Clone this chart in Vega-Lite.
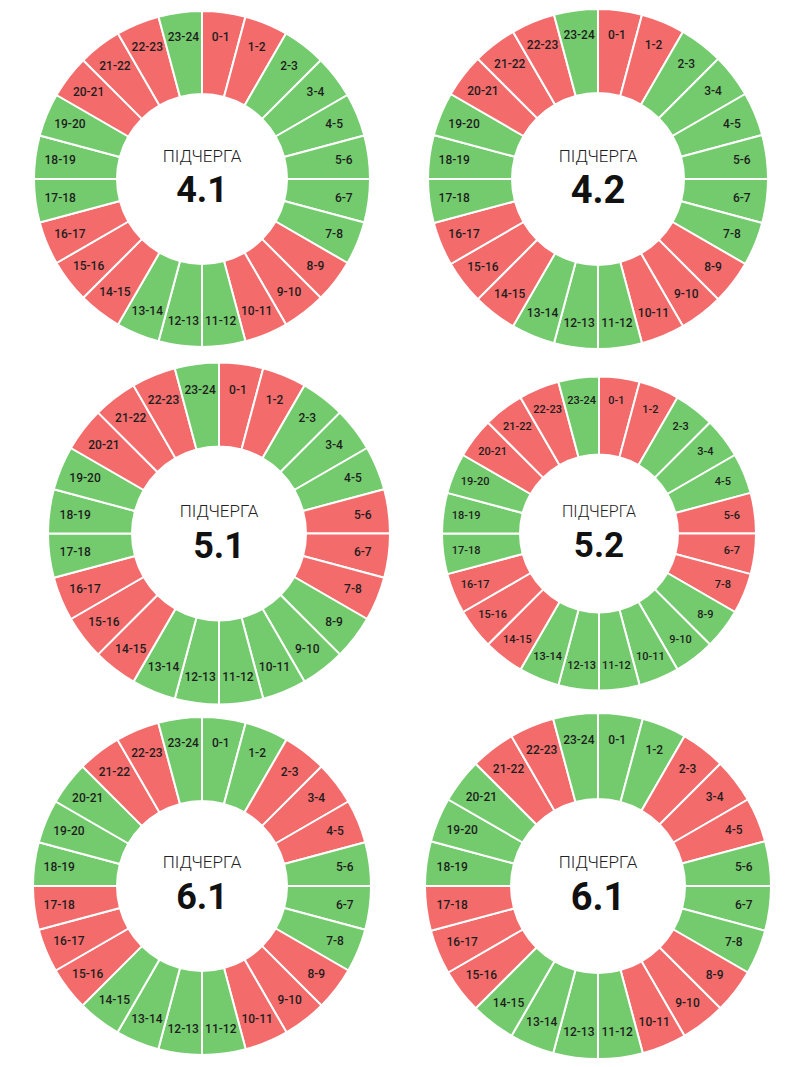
{
  "$schema": "https://vega.github.io/schema/vega-lite/v6.json",
  "padding": 0,
  "background": "white",
  "config": {"view": {"stroke": null}, "font": "Roboto"},
  "datasets": {
    "sched": [
      {"c":1,"h":0,"l":"0-1","s":"off","v":1},{"c":1,"h":1,"l":"1-2","s":"off","v":1},{"c":1,"h":2,"l":"2-3","s":"on","v":1},{"c":1,"h":3,"l":"3-4","s":"on","v":1},{"c":1,"h":4,"l":"4-5","s":"on","v":1},{"c":1,"h":5,"l":"5-6","s":"on","v":1},{"c":1,"h":6,"l":"6-7","s":"on","v":1},{"c":1,"h":7,"l":"7-8","s":"on","v":1},{"c":1,"h":8,"l":"8-9","s":"off","v":1},{"c":1,"h":9,"l":"9-10","s":"off","v":1},{"c":1,"h":10,"l":"10-11","s":"off","v":1},{"c":1,"h":11,"l":"11-12","s":"on","v":1},{"c":1,"h":12,"l":"12-13","s":"on","v":1},{"c":1,"h":13,"l":"13-14","s":"on","v":1},{"c":1,"h":14,"l":"14-15","s":"off","v":1},{"c":1,"h":15,"l":"15-16","s":"off","v":1},{"c":1,"h":16,"l":"16-17","s":"off","v":1},{"c":1,"h":17,"l":"17-18","s":"on","v":1},{"c":1,"h":18,"l":"18-19","s":"on","v":1},{"c":1,"h":19,"l":"19-20","s":"on","v":1},{"c":1,"h":20,"l":"20-21","s":"off","v":1},{"c":1,"h":21,"l":"21-22","s":"off","v":1},{"c":1,"h":22,"l":"22-23","s":"off","v":1},{"c":1,"h":23,"l":"23-24","s":"on","v":1},
      {"c":2,"h":0,"l":"0-1","s":"off","v":1},{"c":2,"h":1,"l":"1-2","s":"off","v":1},{"c":2,"h":2,"l":"2-3","s":"on","v":1},{"c":2,"h":3,"l":"3-4","s":"on","v":1},{"c":2,"h":4,"l":"4-5","s":"on","v":1},{"c":2,"h":5,"l":"5-6","s":"on","v":1},{"c":2,"h":6,"l":"6-7","s":"on","v":1},{"c":2,"h":7,"l":"7-8","s":"on","v":1},{"c":2,"h":8,"l":"8-9","s":"off","v":1},{"c":2,"h":9,"l":"9-10","s":"off","v":1},{"c":2,"h":10,"l":"10-11","s":"off","v":1},{"c":2,"h":11,"l":"11-12","s":"on","v":1},{"c":2,"h":12,"l":"12-13","s":"on","v":1},{"c":2,"h":13,"l":"13-14","s":"on","v":1},{"c":2,"h":14,"l":"14-15","s":"off","v":1},{"c":2,"h":15,"l":"15-16","s":"off","v":1},{"c":2,"h":16,"l":"16-17","s":"off","v":1},{"c":2,"h":17,"l":"17-18","s":"on","v":1},{"c":2,"h":18,"l":"18-19","s":"on","v":1},{"c":2,"h":19,"l":"19-20","s":"on","v":1},{"c":2,"h":20,"l":"20-21","s":"off","v":1},{"c":2,"h":21,"l":"21-22","s":"off","v":1},{"c":2,"h":22,"l":"22-23","s":"off","v":1},{"c":2,"h":23,"l":"23-24","s":"on","v":1},
      {"c":3,"h":0,"l":"0-1","s":"off","v":1},{"c":3,"h":1,"l":"1-2","s":"off","v":1},{"c":3,"h":2,"l":"2-3","s":"on","v":1},{"c":3,"h":3,"l":"3-4","s":"on","v":1},{"c":3,"h":4,"l":"4-5","s":"on","v":1},{"c":3,"h":5,"l":"5-6","s":"off","v":1},{"c":3,"h":6,"l":"6-7","s":"off","v":1},{"c":3,"h":7,"l":"7-8","s":"off","v":1},{"c":3,"h":8,"l":"8-9","s":"on","v":1},{"c":3,"h":9,"l":"9-10","s":"on","v":1},{"c":3,"h":10,"l":"10-11","s":"on","v":1},{"c":3,"h":11,"l":"11-12","s":"on","v":1},{"c":3,"h":12,"l":"12-13","s":"on","v":1},{"c":3,"h":13,"l":"13-14","s":"on","v":1},{"c":3,"h":14,"l":"14-15","s":"off","v":1},{"c":3,"h":15,"l":"15-16","s":"off","v":1},{"c":3,"h":16,"l":"16-17","s":"off","v":1},{"c":3,"h":17,"l":"17-18","s":"on","v":1},{"c":3,"h":18,"l":"18-19","s":"on","v":1},{"c":3,"h":19,"l":"19-20","s":"on","v":1},{"c":3,"h":20,"l":"20-21","s":"off","v":1},{"c":3,"h":21,"l":"21-22","s":"off","v":1},{"c":3,"h":22,"l":"22-23","s":"off","v":1},{"c":3,"h":23,"l":"23-24","s":"on","v":1},
      {"c":4,"h":0,"l":"0-1","s":"off","v":1},{"c":4,"h":1,"l":"1-2","s":"off","v":1},{"c":4,"h":2,"l":"2-3","s":"on","v":1},{"c":4,"h":3,"l":"3-4","s":"on","v":1},{"c":4,"h":4,"l":"4-5","s":"on","v":1},{"c":4,"h":5,"l":"5-6","s":"off","v":1},{"c":4,"h":6,"l":"6-7","s":"off","v":1},{"c":4,"h":7,"l":"7-8","s":"off","v":1},{"c":4,"h":8,"l":"8-9","s":"on","v":1},{"c":4,"h":9,"l":"9-10","s":"on","v":1},{"c":4,"h":10,"l":"10-11","s":"on","v":1},{"c":4,"h":11,"l":"11-12","s":"on","v":1},{"c":4,"h":12,"l":"12-13","s":"on","v":1},{"c":4,"h":13,"l":"13-14","s":"on","v":1},{"c":4,"h":14,"l":"14-15","s":"off","v":1},{"c":4,"h":15,"l":"15-16","s":"off","v":1},{"c":4,"h":16,"l":"16-17","s":"off","v":1},{"c":4,"h":17,"l":"17-18","s":"on","v":1},{"c":4,"h":18,"l":"18-19","s":"on","v":1},{"c":4,"h":19,"l":"19-20","s":"on","v":1},{"c":4,"h":20,"l":"20-21","s":"off","v":1},{"c":4,"h":21,"l":"21-22","s":"off","v":1},{"c":4,"h":22,"l":"22-23","s":"off","v":1},{"c":4,"h":23,"l":"23-24","s":"on","v":1},
      {"c":5,"h":0,"l":"0-1","s":"on","v":1},{"c":5,"h":1,"l":"1-2","s":"on","v":1},{"c":5,"h":2,"l":"2-3","s":"off","v":1},{"c":5,"h":3,"l":"3-4","s":"off","v":1},{"c":5,"h":4,"l":"4-5","s":"off","v":1},{"c":5,"h":5,"l":"5-6","s":"on","v":1},{"c":5,"h":6,"l":"6-7","s":"on","v":1},{"c":5,"h":7,"l":"7-8","s":"on","v":1},{"c":5,"h":8,"l":"8-9","s":"off","v":1},{"c":5,"h":9,"l":"9-10","s":"off","v":1},{"c":5,"h":10,"l":"10-11","s":"off","v":1},{"c":5,"h":11,"l":"11-12","s":"on","v":1},{"c":5,"h":12,"l":"12-13","s":"on","v":1},{"c":5,"h":13,"l":"13-14","s":"on","v":1},{"c":5,"h":14,"l":"14-15","s":"on","v":1},{"c":5,"h":15,"l":"15-16","s":"off","v":1},{"c":5,"h":16,"l":"16-17","s":"off","v":1},{"c":5,"h":17,"l":"17-18","s":"off","v":1},{"c":5,"h":18,"l":"18-19","s":"on","v":1},{"c":5,"h":19,"l":"19-20","s":"on","v":1},{"c":5,"h":20,"l":"20-21","s":"on","v":1},{"c":5,"h":21,"l":"21-22","s":"off","v":1},{"c":5,"h":22,"l":"22-23","s":"off","v":1},{"c":5,"h":23,"l":"23-24","s":"on","v":1},
      {"c":6,"h":0,"l":"0-1","s":"on","v":1},{"c":6,"h":1,"l":"1-2","s":"on","v":1},{"c":6,"h":2,"l":"2-3","s":"off","v":1},{"c":6,"h":3,"l":"3-4","s":"off","v":1},{"c":6,"h":4,"l":"4-5","s":"off","v":1},{"c":6,"h":5,"l":"5-6","s":"on","v":1},{"c":6,"h":6,"l":"6-7","s":"on","v":1},{"c":6,"h":7,"l":"7-8","s":"on","v":1},{"c":6,"h":8,"l":"8-9","s":"off","v":1},{"c":6,"h":9,"l":"9-10","s":"off","v":1},{"c":6,"h":10,"l":"10-11","s":"off","v":1},{"c":6,"h":11,"l":"11-12","s":"on","v":1},{"c":6,"h":12,"l":"12-13","s":"on","v":1},{"c":6,"h":13,"l":"13-14","s":"on","v":1},{"c":6,"h":14,"l":"14-15","s":"on","v":1},{"c":6,"h":15,"l":"15-16","s":"off","v":1},{"c":6,"h":16,"l":"16-17","s":"off","v":1},{"c":6,"h":17,"l":"17-18","s":"off","v":1},{"c":6,"h":18,"l":"18-19","s":"on","v":1},{"c":6,"h":19,"l":"19-20","s":"on","v":1},{"c":6,"h":20,"l":"20-21","s":"on","v":1},{"c":6,"h":21,"l":"21-22","s":"off","v":1},{"c":6,"h":22,"l":"22-23","s":"off","v":1},{"c":6,"h":23,"l":"23-24","s":"on","v":1}
    ]
  },
  "spacing": 0,
  "vconcat": [
    {
      "spacing": 0,
      "hconcat": [
        {
          "width": 404, "height": 358,
          "layer": [
            {
              "data": {"name": "sched"},
              "transform": [{"filter": "datum.c == 1"}],
              "encoding": {
                "theta": {"field": "v", "type": "quantitative", "stack": true},
                "order": {"field": "h", "type": "quantitative"}
              },
              "layer": [
                {"mark": {"type": "arc", "outerRadius": 168, "innerRadius": 85, "stroke": "white", "strokeWidth": 2},
                 "encoding": {"color": {"field": "s", "type": "nominal", "scale": {"domain": ["off", "on"], "range": ["#f36b6b", "#73cb6d"]}, "legend": null}}},
                {"mark": {"type": "text", "radius": 143, "fontSize": 12, "fontWeight": 500, "color": "#1e1e1e"},
                 "encoding": {"text": {"field": "l", "type": "nominal"}}}
              ]
            },
            {
              "data": {"values": [{"t": "ПІДЧЕРГА", "n": "4.1"}]},
              "layer": [
                {"mark": {"type": "text", "dy": -22, "fontSize": 17, "fontWeight": 300, "color": "#222"}, "encoding": {"text": {"field": "t", "type": "nominal"}}},
                {"mark": {"type": "text", "dy": 12, "fontSize": 36, "fontWeight": "bold", "color": "#111"}, "encoding": {"text": {"field": "n", "type": "nominal"}}}
              ]
            }
          ]
        },
        {
          "width": 388, "height": 358,
          "layer": [
            {
              "data": {"name": "sched"},
              "transform": [{"filter": "datum.c == 2"}],
              "encoding": {
                "theta": {"field": "v", "type": "quantitative", "stack": true},
                "order": {"field": "h", "type": "quantitative"}
              },
              "layer": [
                {"mark": {"type": "arc", "outerRadius": 170, "innerRadius": 86, "stroke": "white", "strokeWidth": 2},
                 "encoding": {"color": {"field": "s", "type": "nominal", "scale": {"domain": ["off", "on"], "range": ["#f36b6b", "#73cb6d"]}, "legend": null}}},
                {"mark": {"type": "text", "radius": 145, "fontSize": 12, "fontWeight": 500, "color": "#1e1e1e"},
                 "encoding": {"text": {"field": "l", "type": "nominal"}}}
              ]
            },
            {
              "data": {"values": [{"t": "ПІДЧЕРГА", "n": "4.2"}]},
              "layer": [
                {"mark": {"type": "text", "dy": -22, "fontSize": 17, "fontWeight": 300, "color": "#222"}, "encoding": {"text": {"field": "t", "type": "nominal"}}},
                {"mark": {"type": "text", "dy": 13, "fontSize": 38, "fontWeight": "bold", "color": "#111"}, "encoding": {"text": {"field": "n", "type": "nominal"}}}
              ]
            }
          ]
        }
      ]
    },
    {
      "spacing": 0,
      "hconcat": [
        {
          "width": 438, "height": 351,
          "layer": [
            {
              "data": {"name": "sched"},
              "transform": [{"filter": "datum.c == 3"}],
              "encoding": {
                "theta": {"field": "v", "type": "quantitative", "stack": true},
                "order": {"field": "h", "type": "quantitative"}
              },
              "layer": [
                {"mark": {"type": "arc", "outerRadius": 171, "innerRadius": 87, "stroke": "white", "strokeWidth": 2},
                 "encoding": {"color": {"field": "s", "type": "nominal", "scale": {"domain": ["off", "on"], "range": ["#f36b6b", "#73cb6d"]}, "legend": null}}},
                {"mark": {"type": "text", "radius": 145, "fontSize": 12, "fontWeight": 500, "color": "#1e1e1e"},
                 "encoding": {"text": {"field": "l", "type": "nominal"}}}
              ]
            },
            {
              "data": {"values": [{"t": "ПІДЧЕРГА", "n": "5.1"}]},
              "layer": [
                {"mark": {"type": "text", "dy": -22, "fontSize": 17, "fontWeight": 300, "color": "#222"}, "encoding": {"text": {"field": "t", "type": "nominal"}}},
                {"mark": {"type": "text", "dy": 13, "fontSize": 36, "fontWeight": "bold", "color": "#111"}, "encoding": {"text": {"field": "n", "type": "nominal"}}}
              ]
            }
          ]
        },
        {
          "width": 320, "height": 351,
          "layer": [
            {
              "data": {"name": "sched"},
              "transform": [{"filter": "datum.c == 4"}],
              "encoding": {
                "theta": {"field": "v", "type": "quantitative", "stack": true},
                "order": {"field": "h", "type": "quantitative"}
              },
              "layer": [
                {"mark": {"type": "arc", "outerRadius": 157, "innerRadius": 79, "stroke": "white", "strokeWidth": 2},
                 "encoding": {"color": {"field": "s", "type": "nominal", "scale": {"domain": ["off", "on"], "range": ["#f36b6b", "#73cb6d"]}, "legend": null}}},
                {"mark": {"type": "text", "radius": 134, "fontSize": 11, "fontWeight": 500, "color": "#1e1e1e"},
                 "encoding": {"text": {"field": "l", "type": "nominal"}}}
              ]
            },
            {
              "data": {"values": [{"t": "ПІДЧЕРГА", "n": "5.2"}]},
              "layer": [
                {"mark": {"type": "text", "dy": -22, "fontSize": 16, "fontWeight": 300, "color": "#222"}, "encoding": {"text": {"field": "t", "type": "nominal"}}},
                {"mark": {"type": "text", "dy": 12, "fontSize": 35, "fontWeight": "bold", "color": "#111"}, "encoding": {"text": {"field": "n", "type": "nominal"}}}
              ]
            }
          ]
        }
      ]
    },
    {
      "spacing": 0,
      "hconcat": [
        {
          "width": 404, "height": 354,
          "layer": [
            {
              "data": {"name": "sched"},
              "transform": [{"filter": "datum.c == 5"}],
              "encoding": {
                "theta": {"field": "v", "type": "quantitative", "stack": true},
                "order": {"field": "h", "type": "quantitative"}
              },
              "layer": [
                {"mark": {"type": "arc", "outerRadius": 169, "innerRadius": 85, "stroke": "white", "strokeWidth": 2},
                 "encoding": {"color": {"field": "s", "type": "nominal", "scale": {"domain": ["off", "on"], "range": ["#f36b6b", "#73cb6d"]}, "legend": null}}},
                {"mark": {"type": "text", "radius": 144, "fontSize": 12, "fontWeight": 500, "color": "#1e1e1e"},
                 "encoding": {"text": {"field": "l", "type": "nominal"}}}
              ]
            },
            {
              "data": {"values": [{"t": "ПІДЧЕРГА", "n": "6.1"}]},
              "layer": [
                {"mark": {"type": "text", "dy": -23, "fontSize": 17, "fontWeight": 300, "color": "#222"}, "encoding": {"text": {"field": "t", "type": "nominal"}}},
                {"mark": {"type": "text", "dy": 12, "fontSize": 36, "fontWeight": "bold", "color": "#111"}, "encoding": {"text": {"field": "n", "type": "nominal"}}}
              ]
            }
          ]
        },
        {
          "width": 388, "height": 354,
          "layer": [
            {
              "data": {"name": "sched"},
              "transform": [{"filter": "datum.c == 6"}],
              "encoding": {
                "theta": {"field": "v", "type": "quantitative", "stack": true},
                "order": {"field": "h", "type": "quantitative"}
              },
              "layer": [
                {"mark": {"type": "arc", "outerRadius": 173, "innerRadius": 87, "stroke": "white", "strokeWidth": 2},
                 "encoding": {"color": {"field": "s", "type": "nominal", "scale": {"domain": ["off", "on"], "range": ["#f36b6b", "#73cb6d"]}, "legend": null}}},
                {"mark": {"type": "text", "radius": 147, "fontSize": 12, "fontWeight": 500, "color": "#1e1e1e"},
                 "encoding": {"text": {"field": "l", "type": "nominal"}}}
              ]
            },
            {
              "data": {"values": [{"t": "ПІДЧЕРГА", "n": "6.1"}]},
              "layer": [
                {"mark": {"type": "text", "dy": -23, "fontSize": 17, "fontWeight": 300, "color": "#222"}, "encoding": {"text": {"field": "t", "type": "nominal"}}},
                {"mark": {"type": "text", "dy": 13, "fontSize": 38, "fontWeight": "bold", "color": "#111"}, "encoding": {"text": {"field": "n", "type": "nominal"}}}
              ]
            }
          ]
        }
      ]
    }
  ]
}
